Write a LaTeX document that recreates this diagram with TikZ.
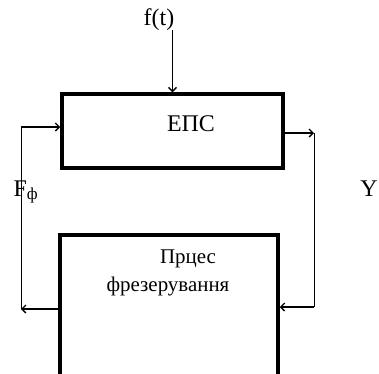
\documentclass[tikz,border=0pt]{standalone}
\usepackage{fontspec}
\setmainfont{Liberation Serif}
\usetikzlibrary{arrows.meta}
\begin{document}
\begin{tikzpicture}[x=1bp,y=-1bp,
  box/.style={draw,line width=3.5bp,inner sep=0pt},
  conn/.style={line width=1.4bp,-{Straight Barb[length=4bp,width=8bp]}},
  wire/.style={line width=0.9bp},
  lbl/.style={inner sep=0pt,font=\fontsize{24}{26}\selectfont},
  lbls/.style={inner sep=0pt,font=\fontsize{21}{23}\selectfont}]
\clip (0,0) rectangle (379,374);
\useasboundingbox (0,0) rectangle (379,374);
\node[box,minimum width=221bp,minimum height=74bp] (eps) at (172.5,131) {};
\node[box,minimum width=218bp,minimum height=160bp] (proc) at (169,315) {};
\node[lbl] (epst) at (191,124) {ЕПС};
\node[lbls] (p1) at (188,259) {Прцес};
\node[lbls] (p2) at (168,286) {фрезерування};
\node[lbl] (ftl) at (159,20) {f(t)};
\node[lbl] (ff) at (26,192) {F\textsubscript{ф}};
\node[lbl] (yl) at (369,189) {Y};
\coordinate (ft) at (172.5,30);
\coordinate (l1) at (21,127);
\coordinate (l2) at (21,309);
\coordinate (r1) at (314,133);
\coordinate (r2) at (314,307);
\draw[conn] (ft) -- (eps.north);
\draw[conn] (proc.west |- l2) -- (l2);
\draw[wire] (l2) -- (l1);
\draw[conn] (l1) -- (eps.west |- l1);
\draw[conn] (eps.east |- r1) -- (r1);
\draw[wire] (r1) -- (r2);
\draw[conn] (r2) -- (proc.east |- r2);
\end{tikzpicture}
\end{document}
